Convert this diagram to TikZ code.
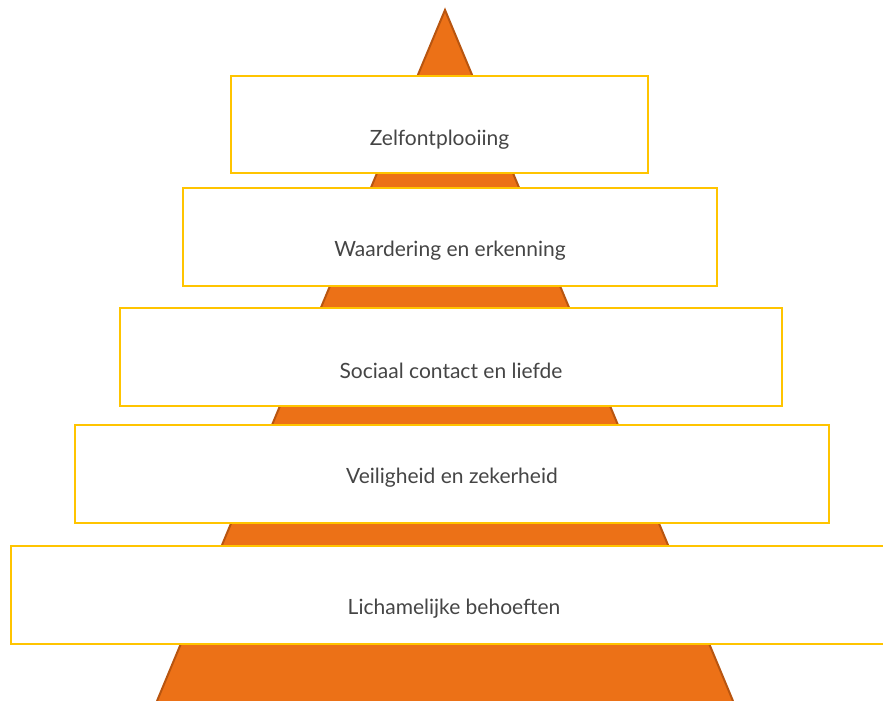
\documentclass[tikz,border=0pt]{standalone}
\usepackage{fontspec}
\setmainfont{Lato}
\usepackage{tikz}
\usetikzlibrary{positioning,calc}
\definecolor{piramide}{HTML}{EC7117}
\definecolor{piramiderand}{HTML}{B85510}
\definecolor{kaderrand}{HTML}{FFC400}
\definecolor{tekstgrijs}{HTML}{454545}

\begin{document}
\begin{tikzpicture}[x=1pt,y=-1pt,
	laag/.style={rectangle, draw=kaderrand, line width=2.5pt, fill=white, inner sep=0pt, minimum width=#1, minimum height=98pt},
	tekst/.style={text=tekstgrijs, font=\fontsize{21}{25}\selectfont, inner sep=0pt}]
			
			\useasboundingbox (0,0) rectangle (883,701);
			
			% PIRAMIDE
			
			\coordinate (top) at (445,10);
			\coordinate (linksonder) at (157,701);
			\coordinate (rechtsonder) at (733,701);
			\fill[piramide] (linksonder) -- (top) -- (rechtsonder) -- cycle;
			\draw[draw=piramiderand, line width=2pt, line join=miter] (linksonder) -- (top) -- (rechtsonder);
			
			% LAGEN
			
			\node [laag=417pt, minimum height=97pt] (zelf) at (439.5,124.5) {};
			\node [laag=534pt] (waardering) at (450,237) {};
			\node [laag=662pt] (sociaal) at (451,357) {};
			\node [laag=754pt] (veiligheid) at (452,474) {};
			\node [laag=886pt] (lichaam) at (454,595) {};
			
			\node [tekst] at ([yshift=-15pt]zelf.center) {Zelfontplooiing};
			\node [tekst] at ([yshift=-14pt]waardering.center) {Waardering en erkenning};
			\node [tekst] at ([yshift=-14pt]sociaal.center) {Sociaal contact en liefde};
			\node [tekst] at ([yshift=-4pt]veiligheid.center) {Veiligheid en zekerheid};
			\node [tekst] at ([yshift=-14pt]lichaam.center) {Lichamelijke behoeften};

		 \end{tikzpicture}
\end{document}
